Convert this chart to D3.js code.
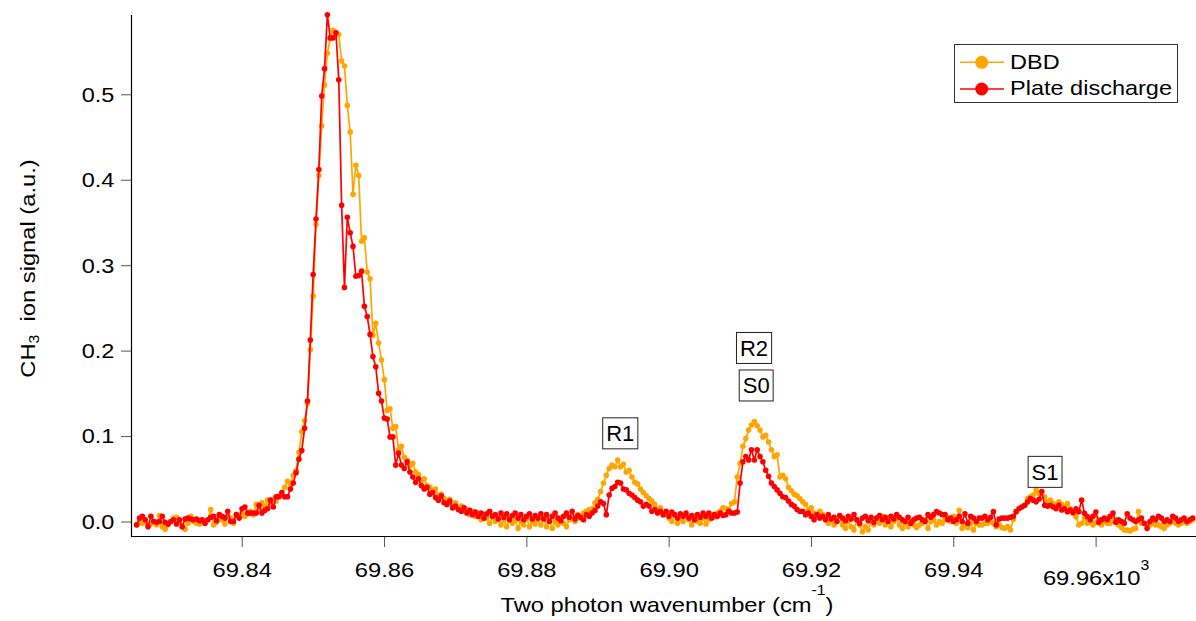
<!DOCTYPE html>
<html><head><meta charset="utf-8">
<script src="https://cdn.jsdelivr.net/npm/d3@7"></script>
<style>
html,body{margin:0;padding:0;background:#fff;}
svg{display:block;}
text{font-family:"Liberation Sans", Arial, sans-serif; fill:#000;}
.stretch{transform-box:fill-box; transform:scaleX(1.13); transform-origin:50% 50%;}
.stretchR{transform-box:fill-box; transform:scaleX(1.12); transform-origin:100% 50%;}
.stretchL{transform-box:fill-box; transform:scaleX(1.12); transform-origin:0% 50%;}
</style></head><body>
<svg id="chart" width="1196" height="621"></svg>
<script>
// scan grid (10^3 cm^-1)
const scanStart = 69.82524;
const scanStep = 0.0004;

// DBD (orange) CH3 ion signal
const dbdSignal = [
-0.004,-0.001,-0.002,0.001,-0.004,-0.003,0.000,-0.004,0.007,-0.006,
-0.009,-0.004,0.000,0.004,0.005,0.000,-0.006,-0.009,-0.002,0.006,
0.000,-0.002,-0.003,0.000,-0.002,0.002,0.014,-0.004,-0.001,0.002,
0.002,-0.003,0.006,0.004,-0.002,0.008,0.005,0.010,0.006,0.009,
0.012,0.008,0.020,0.014,0.022,0.018,0.025,0.021,0.026,0.024,
0.030,0.031,0.040,0.047,0.044,0.054,0.060,0.081,0.105,0.118,
0.138,0.201,0.264,0.348,0.405,0.463,0.511,0.548,0.565,0.575,
0.572,0.570,0.539,0.533,0.487,0.456,0.383,0.417,0.405,0.328,
0.332,0.292,0.284,0.218,0.232,0.209,0.189,0.166,0.130,0.132,
0.109,0.111,0.084,0.088,0.075,0.072,0.065,0.068,0.058,0.055,
0.048,0.050,0.042,0.040,0.036,0.038,0.030,0.032,0.027,0.024,
0.026,0.020,0.022,0.016,0.018,0.012,0.014,0.008,0.012,0.006,
0.010,0.002,0.008,0.004,-0.002,0.006,0.000,0.004,-0.004,0.002,
-0.006,0.004,-0.002,0.002,-0.008,0.000,-0.004,0.004,-0.006,0.000,
-0.003,0.002,-0.004,0.004,-0.006,0.002,-0.008,0.000,-0.004,0.004,
-0.002,-0.006,0.002,0.006,0.000,0.008,0.004,0.010,0.012,0.014,
0.015,0.022,0.026,0.035,0.045,0.054,0.062,0.066,0.064,0.072,
0.064,0.067,0.058,0.060,0.052,0.046,0.044,0.038,0.034,0.030,
0.027,0.024,0.020,0.014,0.016,0.008,0.010,0.004,0.000,0.008,
-0.002,0.004,0.000,0.007,0.002,-0.004,0.006,0.000,-0.002,0.004,
-0.003,0.002,0.008,0.005,0.010,0.012,0.016,0.015,0.014,0.021,
0.023,0.052,0.068,0.088,0.097,0.107,0.113,0.117,0.112,0.107,
0.099,0.101,0.093,0.084,0.076,0.078,0.052,0.054,0.050,0.040,
0.036,0.032,0.030,0.027,0.023,0.020,0.013,0.016,0.010,0.006,
0.012,0.008,0.004,-0.002,0.002,-0.004,0.000,0.006,-0.004,-0.008,
0.000,-0.006,-0.010,0.002,-0.004,-0.012,-0.006,-0.010,0.000,-0.004,
0.004,-0.002,0.006,-0.004,0.002,-0.006,0.000,0.004,-0.004,-0.008,
-0.002,-0.006,0.000,-0.004,-0.007,-0.004,-0.002,0.002,-0.008,0.000,
0.002,-0.004,0.000,-0.002,0.002,0.004,0.000,0.006,-0.002,0.013,
-0.008,-0.004,-0.007,-0.002,-0.010,-0.002,-0.004,-0.004,-0.002,-0.002,
0.000,-0.002,-0.006,-0.004,-0.007,-0.008,-0.006,-0.010,0.0025,0.0115,
0.0154,0.017,0.019,0.027,0.029,0.031,0.037,0.033,0.029,0.029,
0.023,0.025,0.021,0.019,0.023,0.020,0.017,0.021,0.015,0.0096,
0.0057,-0.004,-0.002,0.004,-0.002,0.000,-0.004,-0.001,0.002,-0.004,
0.000,-0.002,-0.002,0.001,0.002,-0.004,-0.007,-0.010,-0.010,-0.011,
-0.009,-0.008,0.0115,-0.002,-0.002,-0.004,-0.004,-0.002,-0.004,-0.004,
-0.006,-0.008,-0.004,-0.002,0.000,-0.002,-0.004,-0.002,0.000,-0.002,
0.000,0.002
];

// Plate discharge (red) CH3 ion signal
const plateSignal = [
-0.004,0.004,0.006,0.002,-0.006,0.006,0.000,-0.001,0.000,0.006,
-0.001,-0.003,0.000,0.002,-0.003,0.002,-0.006,0.003,0.004,0.003,
0.002,0.003,0.001,0.002,-0.002,0.002,0.005,0.006,0.001,0.008,
0.006,0.004,0.012,0.000,0.000,0.008,0.004,0.015,0.017,0.010,
0.010,0.010,0.010,0.019,0.010,0.013,0.015,0.025,0.017,0.029,
0.029,0.034,0.029,0.029,0.038,0.045,0.057,0.073,0.083,0.109,
0.141,0.2125,0.289,0.354,0.412,0.498,0.530,0.593,0.566,0.566,
0.572,0.517,0.370,0.274,0.356,0.338,0.322,0.287,0.288,0.293,
0.252,0.240,0.219,0.193,0.181,0.150,0.141,0.121,0.120,0.099,
0.099,0.066,0.080,0.066,0.062,0.070,0.058,0.052,0.046,0.050,
0.042,0.038,0.040,0.032,0.034,0.028,0.025,0.030,0.022,0.020,
0.024,0.016,0.018,0.014,0.012,0.016,0.010,0.013,0.008,0.011,
0.006,0.010,0.004,0.009,0.012,0.006,0.008,0.003,0.010,0.005,
0.009,0.002,0.007,0.010,0.004,0.008,0.002,0.006,0.009,0.003,
0.007,0.004,0.009,0.003,0.008,0.000,0.006,0.010,0.004,0.001,
0.006,0.010,0.005,0.012,0.003,0.007,0.005,0.002,0.008,0.006,
0.010,0.013,0.018,0.023,0.021,0.008,0.031,0.039,0.041,0.046,
0.045,0.038,0.037,0.033,0.031,0.028,0.025,0.023,0.018,0.020,
0.018,0.012,0.014,0.010,0.012,0.008,0.012,0.006,0.011,0.008,
0.004,0.009,0.006,0.010,0.004,0.007,0.002,0.008,0.005,0.010,
0.006,0.010,0.004,0.008,0.006,0.010,0.007,0.008,0.012,0.010,
0.010,0.011,0.045,0.070,0.076,0.072,0.084,0.072,0.084,0.076,
0.070,0.060,0.053,0.045,0.041,0.037,0.033,0.029,0.028,0.024,
0.020,0.018,0.014,0.012,0.012,0.008,0.010,0.006,0.002,0.008,
0.004,0.006,0.002,0.008,0.003,0.005,0.000,0.007,0.004,0.001,
0.006,0.003,0.008,0.002,-0.002,0.004,0.006,0.001,0.005,-0.001,
0.004,0.007,0.002,0.005,0.000,0.006,0.003,0.008,0.005,0.002,
0.000,0.005,-0.002,0.002,0.004,0.005,0.002,0.000,0.008,0.005,
0.008,0.0115,0.010,0.008,0.008,0.002,0.004,0.000,0.002,0.006,
0.000,0.009,-0.002,0.006,0.004,0.000,0.004,0.004,0.006,0.002,
0.005,0.0115,-0.004,0.003,0.004,0.004,0.004,0.005,0.006,0.0115,
0.015,0.017,0.019,0.023,0.027,0.025,0.023,0.026,0.035,0.019,
0.018,0.019,0.017,0.015,0.019,0.0135,0.015,0.0115,0.0135,0.0105,
0.015,0.0115,0.025,0.0096,0.0057,0.002,0.006,0.011,-0.001,0.002,
0.004,0.002,0.006,0.010,-0.001,0.002,0.000,-0.002,0.009,0.004,
0.002,0.000,0.002,0.004,-0.002,-0.008,0.000,0.004,0.002,0.006,
0.004,0.000,0.002,0.000,0.006,0.004,0.000,0.002,0.004,0.000,
0.002,0.004
];

const seriesNames = ["DBD", "Plate discharge"];
const seriesColors = ["#FFA500", "#FF0000"];
const xTickValues = [69.84, 69.86, 69.88, 69.90, 69.92, 69.94, 69.96];
const xTickLabels = ["69.84", "69.86", "69.88", "69.90", "69.92", "69.94", "69.96"];
const yTickValues = [0, 0.1, 0.2, 0.3, 0.4, 0.5];
const yTickLabels = ["0.0", "0.1", "0.2", "0.3", "0.4", "0.5"];
const peakLabels = ["R1", "R2", "S0", "S1"];
const peakX = [69.8932, 69.9120, 69.9123, 69.9529];
const peakY = [0.1032, 0.2031, 0.1592, 0.0581];

const svg = d3.select("#chart");
const L = 131, R = 1196, T = 15, B = 536;

const x = d3.scaleLinear().domain([69.82444, 69.97411]).range([L, R]);
const y = d3.scaleLinear().domain([-0.01697, 0.5928]).range([B, T]);
const xOf = i => x(scanStart + i * scanStep);

// X axis
const gx = svg.append("g").attr("transform", `translate(0,${B})`)
  .call(d3.axisBottom(x).tickValues(xTickValues)
    .tickFormat((d, i) => xTickLabels[i]).tickSize(11).tickSizeOuter(0));
gx.select(".domain").remove();
gx.selectAll(".tick line").attr("stroke", "#555").attr("stroke-width", 1);
gx.attr("font-size", 21).attr("font-family", '"Liberation Sans", Arial, sans-serif');
gx.selectAll(".tick text").attr("y", 40.7).attr("dy", null).attr("fill", "#000").attr("class", "stretch");
gx.selectAll(".tick text").filter((d, i) => i === xTickValues.length - 1)
  .each(function() {
    const t = d3.select(this);
    const lbl = t.text();
    t.text(null).attr("y", 49);
    t.append("tspan").text(lbl + "x10");
    t.append("tspan").attr("font-size", 14).attr("dy", -15).text("3");
  });

// Y axis
const gy = svg.append("g").attr("transform", `translate(${L},0)`)
  .call(d3.axisLeft(y).tickValues(yTickValues)
    .tickFormat((d, i) => yTickLabels[i]).tickSize(10).tickSizeOuter(0));
gy.select(".domain").remove();
gy.selectAll(".tick line").attr("stroke", "#555").attr("stroke-width", 1);
gy.attr("font-size", 21).attr("font-family", '"Liberation Sans", Arial, sans-serif');
gy.selectAll(".tick text").attr("x", -16.7).attr("dy", "0.33em").attr("fill", "#000").attr("class", "stretchR");

// axis lines
svg.append("line").attr("x1", L + 0.5).attr("x2", L + 0.5).attr("y1", T).attr("y2", B + 0.5)
  .attr("stroke", "#000").attr("stroke-width", 1.2);
svg.append("line").attr("x1", L).attr("x2", R).attr("y1", B + 0.5).attr("y2", B + 0.5)
  .attr("stroke", "#000").attr("stroke-width", 1.2);

// axis titles
const xt = svg.append("text").attr("x", 667).attr("y", 611.7)
  .attr("text-anchor", "middle").attr("font-size", 21).attr("class", "stretch");
xt.append("tspan").text("Two photon wavenumber (cm");
xt.append("tspan").attr("font-size", 14).attr("dy", -17).text("-1");
xt.append("tspan").attr("dy", 17).text(")");

const yt = svg.append("g").attr("transform", "translate(35,268.5) rotate(-90)")
  .append("text").attr("x", 0).attr("y", 0).attr("text-anchor", "middle")
  .attr("font-size", 21).attr("class", "stretch");
yt.append("tspan").text("CH");
yt.append("tspan").attr("font-size", 14).attr("dy", 4).text("3");
yt.append("tspan").attr("dy", -4).style("white-space", "pre").text("  ion signal (a.u.)");

// series
const series = [dbdSignal, plateSignal];
const line = d3.line().x((d, i) => xOf(i)).y(d => y(d));
series.forEach((vals, k) => {
  const g = svg.append("g");
  g.append("path").datum(vals).attr("d", line).attr("fill", "none")
    .attr("stroke", seriesColors[k]).attr("stroke-width", 1.7).attr("stroke-linejoin", "round");
  g.selectAll("circle").data(vals).join("circle")
    .attr("cx", (d, i) => xOf(i)).attr("cy", d => y(d)).attr("r", 2.8)
    .attr("fill", seriesColors[k]);
});

// annotations
peakLabels.forEach((lbl, k) => {
  const cx = x(peakX[k]), cy = y(peakY[k]);
  const g = svg.append("g");
  const t = g.append("text").attr("x", cx).attr("y", cy + 8).attr("text-anchor", "middle")
    .attr("font-size", 22).text(lbl);
  const bb = t.node().getBBox();
  g.insert("rect", "text").attr("x", cx - bb.width / 2 - 3.5).attr("y", cy - 15.5)
    .attr("width", bb.width + 7).attr("height", 31)
    .attr("fill", "#fff").attr("stroke", "#222").attr("stroke-width", 1);
});

// legend
const lg = svg.append("g");
lg.append("rect").attr("x", 954.5).attr("y", 44.5).attr("width", 223).attr("height", 58)
  .attr("fill", "#fff").attr("stroke", "#333").attr("stroke-width", 1);
seriesNames.forEach((nm, k) => {
  const ry = 62.3 + k * 26.7;
  lg.append("line").attr("x1", 960).attr("x2", 1004).attr("y1", ry).attr("y2", ry)
    .attr("stroke", seriesColors[k]).attr("stroke-width", 1.6);
  lg.append("circle").attr("cx", 981.7).attr("cy", ry).attr("r", 6.5).attr("fill", seriesColors[k]);
  lg.append("text").attr("x", 1010).attr("y", ry + 6.5).attr("font-size", 21)
    .attr("class", "stretchL").text(nm);
});
</script>
</body></html>
